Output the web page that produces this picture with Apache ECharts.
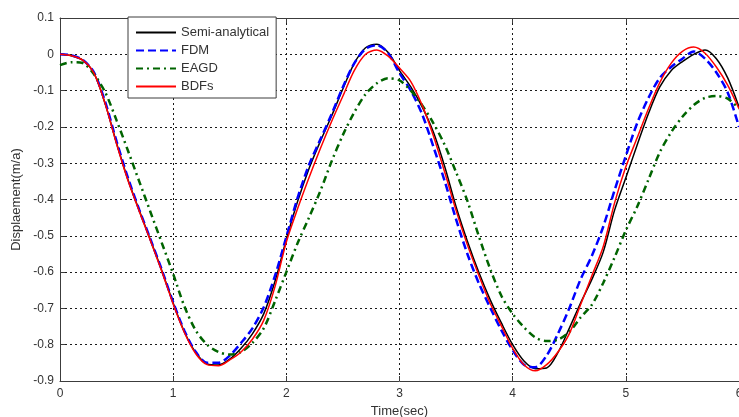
<!DOCTYPE html>
<html>
<head>
<meta charset="utf-8">
<script src="https://cdn.jsdelivr.net/npm/echarts@6/dist/echarts.min.js"></script>
<style>
  html, body { margin: 0; padding: 0; background: #fff; }
  #chart { width: 739px; height: 417px; }
</style>
</head>
<body>
<div id="chart"></div>
<script>
// Time samples (sec)
const timeSec = [
  0.0, 0.1, 0.2, 0.3, 0.4, 0.5, 0.6, 0.7, 0.8, 0.9,
  1.0, 1.1, 1.2, 1.3, 1.4, 1.5, 1.6, 1.7, 1.8, 1.9,
  2.0, 2.1, 2.2, 2.3, 2.4, 2.5, 2.6, 2.7, 2.8, 2.9,
  3.0, 3.1, 3.2, 3.3, 3.4, 3.5, 3.6, 3.7, 3.8, 3.9,
  4.0, 4.1, 4.2, 4.3, 4.4, 4.5, 4.6, 4.7, 4.8, 4.9,
  5.0, 5.1, 5.2, 5.3, 5.4, 5.5, 5.6, 5.7, 5.8, 5.9,
  6.0
];

// Displacement for each method
const semiAnalytical = [
  0.000, -0.004, -0.016, -0.052, -0.137, -0.245, -0.345, -0.430, -0.512, -0.596,
  -0.685, -0.765, -0.822, -0.853, -0.856, -0.840, -0.810, -0.770, -0.715, -0.625,
  -0.510, -0.405, -0.315, -0.240, -0.170, -0.095, -0.025, 0.018, 0.028, 0.005,
  -0.045, -0.090, -0.145, -0.215, -0.310, -0.420, -0.515, -0.600, -0.675, -0.740,
  -0.800, -0.845, -0.866, -0.864, -0.822, -0.755, -0.685, -0.620, -0.545, -0.430,
  -0.340, -0.250, -0.163, -0.090, -0.045, -0.020, 0.000, 0.012, -0.012, -0.065,
  -0.145
];
const fdm = [
  0.000, -0.003, -0.015, -0.050, -0.132, -0.240, -0.340, -0.428, -0.510, -0.594,
  -0.683, -0.762, -0.820, -0.850, -0.850, -0.830, -0.795, -0.755, -0.697, -0.610,
  -0.503, -0.395, -0.305, -0.235, -0.165, -0.090, -0.025, 0.015, 0.025, 0.003,
  -0.052, -0.100, -0.165, -0.255, -0.350, -0.455, -0.550, -0.630, -0.697, -0.760,
  -0.815, -0.855, -0.862, -0.830, -0.770, -0.700, -0.620, -0.555, -0.475, -0.375,
  -0.280, -0.190, -0.120, -0.065, -0.035, -0.012, 0.008, -0.012, -0.050, -0.105,
  -0.200
];
const eagd = [
  -0.030, -0.022, -0.024, -0.055, -0.105, -0.182, -0.265, -0.350, -0.435, -0.520,
  -0.605, -0.695, -0.761, -0.800, -0.820, -0.827, -0.820, -0.795, -0.755, -0.680,
  -0.600, -0.520, -0.450, -0.377, -0.295, -0.222, -0.160, -0.110, -0.080, -0.066,
  -0.072, -0.100, -0.140, -0.190, -0.250, -0.325, -0.404, -0.500, -0.590, -0.665,
  -0.715, -0.752, -0.780, -0.790, -0.786, -0.765, -0.725, -0.690, -0.630, -0.560,
  -0.485, -0.420, -0.345, -0.270, -0.215, -0.172, -0.140, -0.120, -0.115, -0.122,
  -0.150
];
const bdfs = [
  0.000, -0.004, -0.016, -0.052, -0.137, -0.247, -0.347, -0.432, -0.514, -0.598,
  -0.688, -0.767, -0.825, -0.855, -0.858, -0.842, -0.820, -0.785, -0.733, -0.640,
  -0.517, -0.425, -0.340, -0.260, -0.185, -0.115, -0.045, 0.000, 0.012, -0.005,
  -0.038, -0.075, -0.140, -0.225, -0.325, -0.430, -0.525, -0.608, -0.685, -0.748,
  -0.810, -0.855, -0.872, -0.855, -0.820, -0.770, -0.690, -0.610, -0.530, -0.410,
  -0.310, -0.230, -0.150, -0.078, -0.025, 0.008, 0.020, 0.003, -0.035, -0.085,
  -0.150
];

const xTicks = { min: 0, max: 6, step: 1 };
const yTicks = { min: -0.9, max: 0.1, step: 0.1 };

const pairs = arr => timeSec.map((t, i) => [t, arr[i]]);

const FONT = 'Liberation Sans';
const chart = echarts.init(document.getElementById('chart'), null, { renderer: 'canvas' });

const axisLineStyle = { color: '#3c3c3c', width: 1 };
const gridLine = { show: true, lineStyle: { color: '#1a1a1a', type: [2, 3], width: 1 } };

chart.setOption({
  animation: false,
  backgroundColor: '#ffffff',
  // fixed plot rectangle; the last x label is allowed to run off the right edge
  grid: { left: 60, right: 0, top: 18, bottom: 36, containLabel: false, outerBoundsMode: 'none' },
  legend: {
    orient: 'vertical',
    left: 128,
    top: 17,
    itemWidth: 40,
    itemHeight: 12,
    itemGap: 5,
    padding: [9, 7, 5, 7],
    backgroundColor: '#ffffff',
    borderColor: '#3c3c3c',
    borderWidth: 1,
    // line-only keys: hide the marker drawn in the middle of each key
    itemStyle: { opacity: 0 },
    textStyle: { fontFamily: FONT, fontSize: 13, color: '#333' },
    data: ['Semi-analytical', 'FDM', 'EAGD', 'BDFs']
  },
  xAxis: [{
    type: 'value',
    min: xTicks.min, max: xTicks.max, interval: xTicks.step,
    name: 'Time(sec)',
    nameLocation: 'middle',
    nameGap: 21,
    nameTextStyle: { fontFamily: FONT, fontSize: 13, color: '#333' },
    axisLine: { show: true, onZero: false, lineStyle: axisLineStyle },
    axisTick: { show: true, inside: true, length: 5, lineStyle: axisLineStyle },
    axisLabel: { fontFamily: FONT, fontSize: 12, color: '#333', margin: 7 },
    splitLine: gridLine
  }, {
    type: 'value', position: 'top',
    min: xTicks.min, max: xTicks.max, interval: xTicks.step,
    axisLine: { show: true, onZero: false, lineStyle: axisLineStyle },
    axisTick: { show: true, inside: true, length: 5, lineStyle: axisLineStyle },
    axisLabel: { show: false },
    splitLine: { show: false }
  }],
  yAxis: [{
    type: 'value',
    min: yTicks.min, max: yTicks.max, interval: yTicks.step,
    name: 'Displaement(m/a)',
    nameLocation: 'middle',
    nameGap: 37,
    nameTextStyle: { fontFamily: FONT, fontSize: 13, color: '#333' },
    axisLine: { show: true, onZero: false, lineStyle: axisLineStyle },
    axisTick: { show: true, inside: true, length: 5, lineStyle: axisLineStyle },
    axisLabel: {
      fontFamily: FONT, fontSize: 12, color: '#333', margin: 6,
      formatter: v => (Math.abs(v) < 1e-9 ? '0' : v.toFixed(1))
    },
    splitLine: gridLine
  }],
  series: [
    {
      name: 'Semi-analytical', type: 'line', data: pairs(semiAnalytical),
      symbol: 'none', smooth: 0.3,
      lineStyle: { color: '#000000', width: 1.5 },
      itemStyle: { color: '#000000' }
    },
    {
      name: 'FDM', type: 'line', data: pairs(fdm),
      symbol: 'none', smooth: 0.3,
      lineStyle: { color: '#0000ff', width: 2.5, type: [8, 4] },
      itemStyle: { color: '#0000ff' }
    },
    {
      name: 'EAGD', type: 'line', data: pairs(eagd),
      symbol: 'none', smooth: 0.3,
      lineStyle: { color: '#006400', width: 2.5, type: [7, 4, 2, 4] },
      itemStyle: { color: '#006400' }
    },
    {
      name: 'BDFs', type: 'line', data: pairs(bdfs),
      symbol: 'none', smooth: 0.3,
      lineStyle: { color: '#ff0000', width: 1.5 },
      itemStyle: { color: '#ff0000' }
    }
  ]
});
</script>
</body>
</html>
